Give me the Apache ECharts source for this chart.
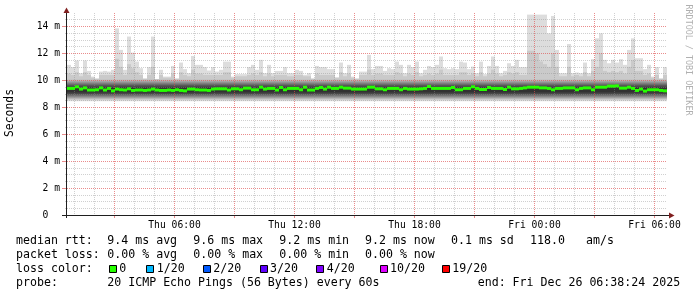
<!DOCTYPE html>
<html><head><meta charset="utf-8">
<script src="https://cdn.jsdelivr.net/npm/echarts@6/dist/echarts.min.js"></script>
<style>html,body{margin:0;padding:0;background:#fff}#c{width:697px;height:297px}</style>
</head><body><div id="c"></div>
<script>
// ---- data ----
const startHour = 0.625;  // Thu 00:37:30 (hours after Thu 00:00)
const stepHour = 0.2;     // 12 min per RRD row
const medianRtt = [
 9.40, 9.40, 9.52, 9.35, 9.44, 9.28, 9.28, 9.30, 9.44, 9.28,
 9.40, 9.22, 9.35, 9.30, 9.28, 9.37, 9.25, 9.28, 9.28, 9.25,
 9.28, 9.35, 9.28, 9.25, 9.25, 9.28, 9.25, 9.30, 9.25, 9.22,
 9.35, 9.35, 9.30, 9.28, 9.28, 9.25, 9.35, 9.37,
 9.37, 9.37, 9.28, 9.37, 9.37, 9.30, 9.42, 9.42, 9.30, 9.30,
 9.49, 9.35, 9.40, 9.40, 9.28, 9.47, 9.30, 9.40, 9.40, 9.40,
 9.30, 9.49, 9.28, 9.28, 9.40, 9.47, 9.35, 9.49, 9.40, 9.40,
 9.49, 9.42, 9.42, 9.35, 9.35, 9.35, 9.35,
 9.49, 9.49, 9.37, 9.37, 9.30, 9.40, 9.40, 9.40, 9.30, 9.40,
 9.35, 9.35, 9.35, 9.37, 9.40, 9.54, 9.40, 9.40, 9.40, 9.40,
 9.40, 9.47, 9.30, 9.30, 9.40, 9.40, 9.52, 9.40, 9.32, 9.32,
 9.47, 9.40, 9.40, 9.40, 9.32, 9.49, 9.37, 9.37,
 9.40, 9.44, 9.49, 9.49, 9.49, 9.44, 9.44, 9.40, 9.30, 9.40,
 9.40, 9.44, 9.44, 9.44, 9.30, 9.40, 9.44, 9.44, 9.30, 9.49,
 9.49, 9.49, 9.57, 9.57, 9.59, 9.42, 9.42, 9.49, 9.40, 9.25,
 9.35, 9.20, 9.30, 9.30, 9.30, 9.25, 9.22
];
const maxRtt = [
 11.15, 10.98, 11.47, 10.53, 11.47, 10.70, 10.28, 10.16, 10.65, 10.70,
 10.65, 10.78, 13.86, 12.26, 10.78, 13.25, 12.06, 11.39, 10.90, 10.16,
 10.98, 13.25, 10.09, 10.78, 10.28, 10.28, 11.07, 10.16, 11.32, 10.83,
 10.53, 11.81, 11.15, 11.15, 10.98, 10.73, 10.98, 10.65,
 10.78, 11.39, 11.39, 10.28, 10.46, 10.46, 10.46, 10.98, 11.15, 10.78,
 11.52, 10.53, 11.15, 10.53, 10.70, 10.70, 10.98, 10.53, 10.53, 10.78,
 10.70, 10.41, 10.53, 10.16, 11.07, 10.98, 10.98, 10.83, 10.83, 10.21,
 11.32, 10.53, 11.15, 10.28, 10.16, 10.65, 10.65,
 11.89, 10.83, 11.07, 11.07, 10.70, 10.90, 10.83, 11.39, 11.15, 10.53,
 11.15, 10.98, 11.39, 10.53, 10.78, 11.07, 10.98, 11.15, 11.77, 10.90,
 10.83, 10.90, 10.83, 11.39, 11.32, 10.83, 11.02, 10.53, 11.39, 10.46,
 11.07, 11.77, 11.07, 10.53, 10.70, 11.27, 11.07, 11.52,
 10.98, 10.98, 14.88, 14.88, 14.88, 14.88, 14.88, 13.49, 14.78, 12.26,
 10.53, 10.53, 12.70, 10.53, 10.58, 10.53, 11.32, 10.53, 11.57, 13.12,
 13.49, 11.52, 11.27, 11.52, 11.32, 11.57, 11.15, 12.26, 13.12, 11.64,
 11.64, 10.83, 11.15, 10.28, 10.98, 10.16, 10.98
];
const ping19 = [
 10.5, 10.4, 10.6, 10.3, 10.6, 10.4, 10.2, 10.1, 10.4, 10.4,
 10.4, 10.4, 11.6, 11.0, 10.4, 11.2, 10.9, 10.6, 10.4, 10.1,
 10.4, 11.0, 10.1, 10.4, 10.2, 10.2, 10.5, 10.1, 10.6, 10.4,
 10.3, 10.8, 10.5, 10.5, 10.4, 10.4, 10.4, 10.4,
 10.4, 10.6, 10.6, 10.2, 10.3, 10.3, 10.3, 10.4, 10.5, 10.4,
 10.6, 10.3, 10.5, 10.3, 10.4, 10.4, 10.4, 10.3, 10.3, 10.4,
 10.4, 10.3, 10.3, 10.1, 10.5, 10.4, 10.4, 10.4, 10.4, 10.2,
 10.6, 10.3, 10.5, 10.2, 10.1, 10.4, 10.4,
 10.8, 10.4, 10.5, 10.5, 10.4, 10.4, 10.4, 10.6, 10.5, 10.3,
 10.5, 10.4, 10.6, 10.3, 10.4, 10.5, 10.4, 10.5, 10.8, 10.4,
 10.4, 10.4, 10.4, 10.6, 10.6, 10.4, 10.5, 10.3, 10.6, 10.3,
 10.5, 10.8, 10.5, 10.3, 10.4, 10.6, 10.5, 10.6,
 10.4, 10.4, 12.2, 12.2, 12.0, 11.4, 11.2, 11.0, 12.0, 11.0,
 10.3, 10.3, 11.0, 10.3, 10.4, 10.3, 10.6, 10.3, 10.7, 11.0,
 12.0, 10.7, 10.6, 10.7, 10.6, 10.7, 10.5, 11.0, 11.5, 10.7,
 10.7, 10.4, 10.5, 10.2, 10.4, 10.1, 10.4
];
// inner smoke quantile levels (ms): pings 1..10 (low side) and 20..11 (high side)
const smokeLow  = [8.45, 8.55, 8.62, 8.68, 8.74, 8.80, 8.87, 8.93, 9.00, 9.10];
const smokeHigh = [null, null, 10.05, 9.95, 9.88, 9.80, 9.72, 9.65, 9.55, 9.46];

const xMinorHours = [1,2,4,5,7,8,10,11,13,14,16,17,19,20,22,23,25,26,28,29];
const xMajorHours = [3,6,9,12,15,18,21,24,27,30];
const xLabelHours = [6,12,18,24,30];
const xTickLabels = ['Thu 06:00','Thu 12:00','Thu 18:00','Fri 00:00','Fri 06:00'];
const yLabelValues = [0,2,4,6,8,10,12,14];
const yTickLabels = ['0  ','2 m','4 m','6 m','8 m','10 m','12 m','14 m'];
const yMinorValues = [0.5,1,1.5,2.5,3,3.5,4.5,5,5.5,6.5,7,7.5,8.5,9,9.5,10.5,11,11.5,12.5,13,13.5,14.5];

const legendRtt  = ['median rtt:','9.4 ms avg','9.6 ms max','9.2 ms min','9.2 ms now','0.1 ms sd','118.0','am/s'];
const legendLoss = ['packet loss:','0.00 % avg','0.00 % max','0.00 % min','0.00 % now'];
const lossLabels = ['0','1/20','2/20','3/20','4/20','10/20','19/20'];
const lossColors = ['#26ff00','#00b8ff','#0059ff','#5e00ff','#7e00ff','#dd00ff','#ff0000'];
const probeText = ['probe:','20 ICMP Echo Pings (56 Bytes) every 60s','end: Fri Dec 26 06:38:24 2025'];

// ---- styles / layout ----
const smokeGrays = ['#dddddd','#cacaca','#b7b7b7','#a4a4a4','#919191','#7e7e7e','#6b6b6b','#585858','#454545','#323232'];
const MONO = '"DejaVu Sans Mono", monospace';
const legendX1 = [16,107.3,193.3,279.3,365,451,530,586];
const lossLabelX = [119.3,156.7,213.3,270,326.7,390,452.3];

const smokeData = medianRtt.map((m, k) => [startHour + k*stepHour, startHour + (k+1)*stepHour, maxRtt[k], ping19[k], m]);

function renderSmoke(params, api) {
  const x0 = api.value(0), x1 = api.value(1);
  const children = [];
  for (let i = 0; i < 10; i++) {
    const hi = i === 0 ? api.value(2) : (i === 1 ? api.value(3) : smokeHigh[i]);
    const lo = smokeLow[i];
    const a = api.coord([x0, hi]), b = api.coord([x1, lo]);
    children.push({type:'rect', shape:{x:Math.round(a[0]), y:a[1], width:Math.round(b[0])-Math.round(a[0]), height:b[1]-a[1]}, style:{fill:smokeGrays[i]}});
  }
  return {type:'group', children};
}
function renderMedian(params, api) {
  const a = api.coord([api.value(0), api.value(4)]);
  const b = api.coord([api.value(1), api.value(4)]);
  return {type:'rect', shape:{x:Math.round(a[0]), y:a[1]-1.5, width:Math.round(b[0])-Math.round(a[0]), height:3}, style:{fill:lossColors[0]}};
}

const graphics = [];
function txt(x, y, s, size, opts) {
  graphics.push(Object.assign({type:'text', x:x, y:y, z:100,
    style:{text:s, font:(size||11.6)+'px '+MONO, fill:'#000', textAlign:'left', textVerticalAlign:'middle'}}, opts||{}));
}
legendRtt.forEach((s,i)=>txt(legendX1[i], 241, s));
legendLoss.forEach((s,i)=>txt(legendX1[i], 255, s));
txt(16, 269, 'loss color:');
lossLabels.forEach((s,i)=>{
  txt(lossLabelX[i], 269, s);
  graphics.push({type:'rect', z:100, shape:{x:Math.round(lossLabelX[i]-10.5)+0.5, y:265.5, width:7, height:7}, style:{fill:lossColors[i], stroke:'#000', lineWidth:1}});
});
txt(16, 283, probeText[0]);
txt(107.3, 283, probeText[1]);
txt(477.7, 283, probeText[2]);
// axis title and watermark
graphics.push({type:'text', x:10, y:113, rotation:Math.PI/2, z:100,
  style:{text:'Seconds', font:'11.4px '+MONO, fill:'#000', textAlign:'center', textVerticalAlign:'middle'}});
graphics.push({type:'text', x:688, y:60, rotation:-Math.PI/2, z:100,
  style:{text:'RRDTOOL / TOBI OETIKER', font:'8.4px '+MONO, fill:'#b0b0b0', textAlign:'center', textVerticalAlign:'middle'}});
// axis lines with arrows
graphics.push({type:'line', z:100, shape:{x1:62, y1:215.5, x2:670, y2:215.5}, style:{stroke:'#1f1f1f', lineWidth:1}});
graphics.push({type:'line', z:100, shape:{x1:66.5, y1:218, x2:66.5, y2:11}, style:{stroke:'#1f1f1f', lineWidth:1}});
graphics.push({type:'polygon', z:101, shape:{points:[[63.5,13],[69.5,13],[66.5,7.5]]}, style:{fill:'#801f1f'}});
graphics.push({type:'polygon', z:101, shape:{points:[[669,212.5],[669,218.5],[674.5,215.5]]}, style:{fill:'#801f1f'}});

const minorGrid = {color:'rgba(143,143,143,0.42)', width:1, type:[1,1]};
const majorGrid = {color:'rgba(222,79,79,0.65)', width:1, type:[1,1]};

const chart = echarts.init(document.getElementById('c'), null, {renderer:'canvas'});
chart.setOption({
  animation:false,
  backgroundColor:'#fff',
  grid:{left:67, top:13, width:600, height:202},
  xAxis:[
    {type:'value', min:startHour, max:startHour+30, z:5, position:'bottom',
     axisLine:{show:false}, axisLabel:{show:false},
     axisTick:{show:false, customValues:xMinorHours},
     splitLine:{show:true, lineStyle:minorGrid}},
    {type:'value', min:startHour, max:startHour+30, z:6, position:'bottom', offset:0,
     axisLine:{show:false},
     axisTick:{show:true, customValues:xMajorHours, length:3, inside:false, lineStyle:{color:'rgba(222,79,79,0.65)'}},
     axisLabel:{show:true, customValues:xLabelHours, margin:5,
       formatter:(v)=>xTickLabels[xLabelHours.indexOf(Math.round(v))],
       fontFamily:MONO, fontSize:9.7, color:'#000'},
     splitLine:{show:true, lineStyle:majorGrid}}
  ],
  yAxis:[
    {type:'value', min:0, max:15, z:5, position:'left', offset:0,
     axisLine:{show:false}, axisLabel:{show:false},
     axisTick:{show:true, customValues:yMinorValues, length:2, lineStyle:{color:'rgba(143,143,143,0.42)'}},
     splitLine:{show:true, lineStyle:minorGrid}},
    {type:'value', min:0, max:15, z:6, position:'left', offset:0,
     axisLine:{show:false},
     axisTick:{show:true, customValues:yLabelValues, length:5, lineStyle:{color:'rgba(222,79,79,0.65)'}},
     axisLabel:{show:true, customValues:yLabelValues, margin:7,
       formatter:(v)=>yTickLabels[yLabelValues.indexOf(Math.round(v))],
       fontFamily:MONO, fontSize:9.7, color:'#000'},
     splitLine:{show:true, lineStyle:majorGrid}}
  ],
  series:[
    {type:'custom', name:'smoke', xAxisIndex:0, yAxisIndex:0, z:1, clip:true,
     renderItem:renderSmoke, data:smokeData, encode:{x:[0,1], y:[2]}},
    {type:'custom', name:'median', xAxisIndex:0, yAxisIndex:0, z:10, clip:true,
     renderItem:renderMedian, data:smokeData, encode:{x:[0,1], y:[4]}}
  ],
  graphic:graphics
});
</script></body></html>
